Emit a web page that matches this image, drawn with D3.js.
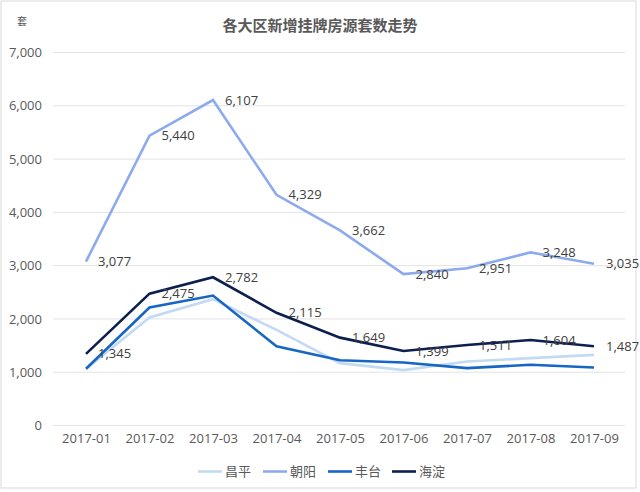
<!DOCTYPE html>
<html><head><meta charset="utf-8">
<script src="https://cdn.jsdelivr.net/npm/d3@7"></script>
<style>body{margin:0;background:#fff;} svg{display:block;font-family:"Open Sans","Noto Sans CJK SC",sans-serif;}</style>
</head><body>
<svg id="c" width="640" height="492"></svg>
<script>
const months = ["2017-01","2017-02","2017-03","2017-04","2017-05","2017-06","2017-07","2017-08","2017-09"];
const seriesNames = ["昌平","朝阳","丰台","海淀"];
const changping = [1060, 2026, 2371, 1795, 1170, 1040, 1200, 1264, 1326];
const chaoyang  = [3077, 5440, 6107, 4329, 3662, 2840, 2951, 3248, 3035];
const fengtai   = [1064, 2214, 2439, 1485, 1225, 1182, 1077, 1139, 1088];
const haidian   = [1345, 2475, 2782, 2115, 1649, 1399, 1511, 1604, 1487];
const yTicks = [0,1000,2000,3000,4000,5000,6000,7000];
const colors = ["#c3daf3","#8eaaee","#1766c4","#0d1f4f"];
const allSeries = [changping, chaoyang, fengtai, haidian];
const labeled = [false, true, false, true];

const svg = d3.select("#c");
svg.append("rect").attr("x",1).attr("y",1).attr("width",635).attr("height",487)
  .attr("fill","#fff").attr("stroke","#d9d9d9");

const x = d3.scalePoint().domain(months).range([86, 594]);
const y = d3.scaleLinear().domain([0,7000]).range([425.5, 52.5]);

// grid
svg.append("g").selectAll("line").data(yTicks).join("line")
  .attr("x1",53).attr("x2",625)
  .attr("y1",d=>y(d)).attr("y2",d=>y(d))
  .attr("stroke","#e3e3e3").attr("stroke-width",1);

// y axis labels
const fmt = d3.format(",");
const yAxis = d3.axisLeft(y).tickValues(yTicks).tickFormat(fmt).tickSize(0).tickPadding(0);
const gy = svg.append("g").attr("transform","translate(42,0)").call(yAxis);
gy.select(".domain").remove();
gy.selectAll("text").attr("fill","#595959").style("font-size","13px").style("font-family","Open Sans");

// x axis labels
const xAxis = d3.axisBottom(x).tickSize(0).tickPadding(0);
const gx = svg.append("g").attr("transform","translate(0,434)").call(xAxis);
gx.select(".domain").remove();
gx.selectAll("text").attr("fill","#595959").style("font-size","13px").style("font-family","Open Sans");

// lines
const line = d3.line().x((d,i)=>x(months[i])).y(d=>y(d));
allSeries.forEach((s,k)=>{
  svg.append("path").datum(s).attr("d",line).attr("fill","none")
    .attr("stroke",colors[k]).attr("stroke-width",2.6).attr("stroke-linejoin","miter");
});

// labels
allSeries.forEach((s,k)=>{
  if(!labeled[k]) return;
  svg.append("g").selectAll("text").data(s).join("text")
    .attr("x",(d,i)=>x(months[i])+12).attr("y",d=>y(d))
    .attr("dy","0.35em").attr("fill","#404040")
    .style("font-size","13px").style("font-family","Open Sans")
    .text(d=>fmt(d));
});

// title
svg.append("text").attr("x",320).attr("y",31).attr("text-anchor","middle")
  .attr("fill","#595959").style("font-size","15px").style("font-weight","bold")
  .style("font-family","Noto Sans CJK SC").text("各大区新增挂牌房源套数走势");
svg.append("text").attr("x",22).attr("y",25).attr("text-anchor","middle")
  .attr("fill","#595959").style("font-size","10px")
  .style("font-family","Noto Sans CJK SC").text("套");

// legend
const lg = svg.append("g");
const legX = [198, 263, 328, 392];
seriesNames.forEach((n,k)=>{
  lg.append("line").attr("x1",legX[k]).attr("x2",legX[k]+24).attr("y1",471.5).attr("y2",471.5)
    .attr("stroke",colors[k]).attr("stroke-width",2.6);
  lg.append("text").attr("x",legX[k]+27).attr("y",471.5).attr("dy","0.35em")
    .attr("fill","#595959").style("font-size","13px").style("font-family","Noto Sans CJK SC").text(n);
});
</script>
</body></html>
